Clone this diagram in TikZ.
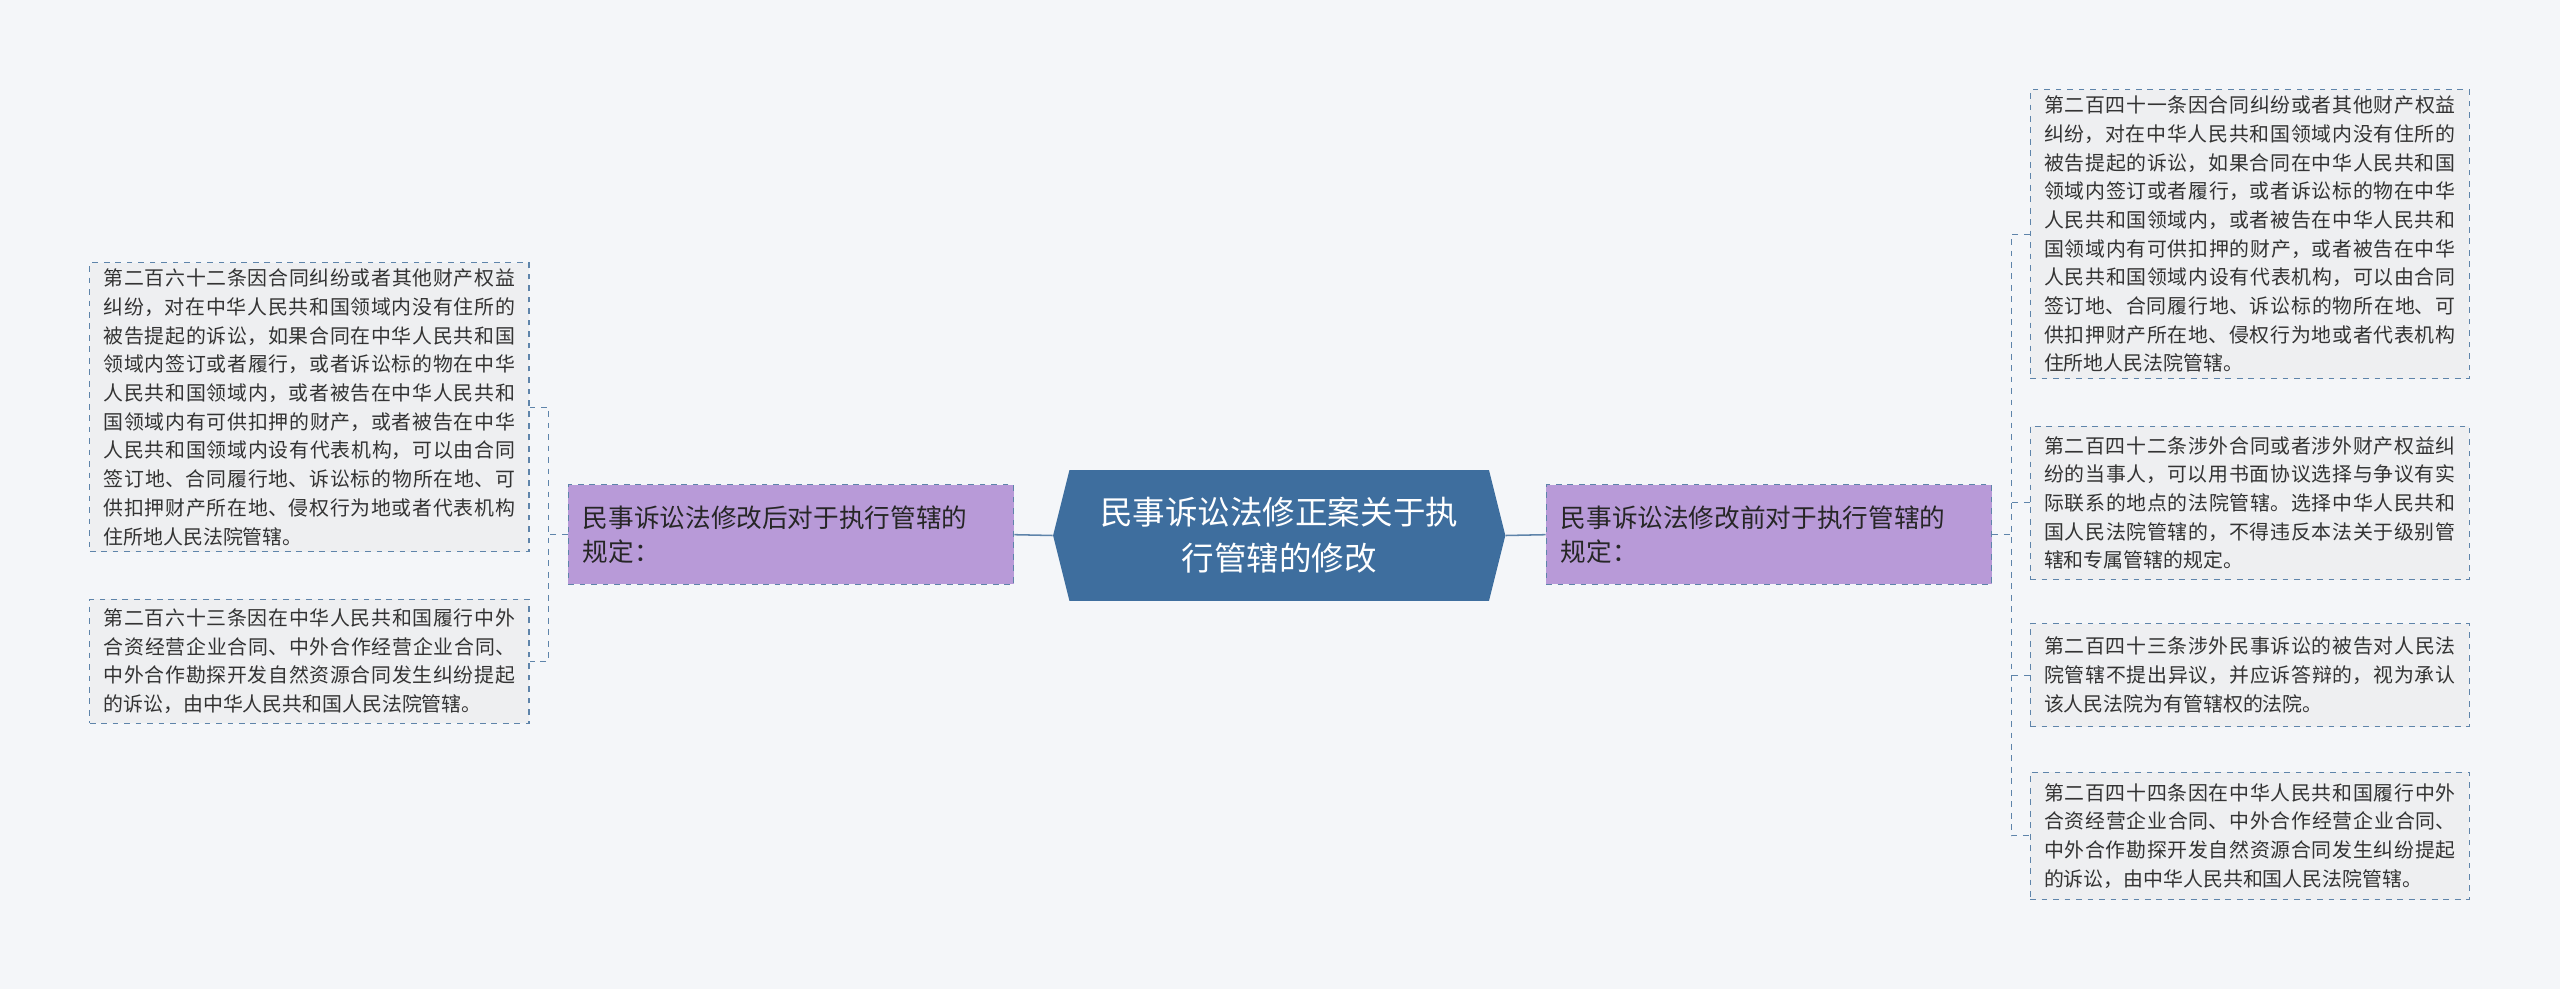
\documentclass[tikz,border=0pt]{standalone}
\usepackage{fontspec}
\setmainfont{Noto Sans CJK SC}
\XeTeXlinebreaklocale "zh"
\XeTeXlinebreakskip=0pt plus 1pt
\definecolor{bg}{HTML}{F4F6F9}
\definecolor{hub}{HTML}{3E6E9E}
\definecolor{br}{HTML}{B89AD8}
\definecolor{lf}{HTML}{EEEFF1}
\definecolor{ln}{HTML}{5E84AA}
\begin{document}
\begin{tikzpicture}[x=0.3mm,y=-0.3mm,
  leaf/.style={draw=ln,dashed,fill=lf,line width=0.6pt,minimum width=269*0.3mm,text width=252*0.3mm,align=justify,inner sep=0pt,font=\fontsize{10.4pt}{15pt}\selectfont,text=black!80},
  branch/.style={draw=ln,dashed,fill=br,line width=0.6pt,minimum width=273*0.3mm,minimum height=61*0.3mm,text width=255*0.3mm,align=left,inner sep=0pt,font=\fontsize{13.4pt}{18pt}\selectfont,text=black!85},
  conn/.style={draw=ln,line width=0.8pt},
  dconn/.style={draw=ln,dashed,line width=0.6pt}]
\useasboundingbox[fill=bg] (0,0) rectangle (1568,606);
% hub
\node[inner sep=0pt,minimum width=277*0.3mm,minimum height=80*0.3mm] (c) at (783.5,328) {};
\fill[hub] (655,288) -- (912,288) -- (922,328) -- (912,368) -- (655,368) -- (645,328) -- cycle;
\node[text=white,align=center,font=\fontsize{17pt}{24pt}\selectfont] at (c) {民事诉讼法修正案关于执\\行管辖的修改};
% branches
\node[branch] (lb) at (484.5,327.5) {民事诉讼法修改后对于执行管辖的\\规定：};
\node[branch] (rb) at (1083.5,327.5) {民事诉讼法修改前对于执行管辖的\\规定：};
\draw[conn] (lb.east) -- (c.west);
\draw[conn] (c.east) -- (rb.west);
% left leaves
\node[leaf,minimum height=177*0.3mm] (l1) at (189.5,249.5) {第二百六十二条因合同纠纷或者其他财产权益纠纷，对在中华人民共和国领域内没有住所的被告提起的诉讼，如果合同在中华人民共和国领域内签订或者履行，或者诉讼标的物在中华人民共和国领域内，或者被告在中华人民共和国领域内有可供扣押的财产，或者被告在中华人民共和国领域内设有代表机构，可以由合同签订地、合同履行地、诉讼标的物所在地、可供扣押财产所在地、侵权行为地或者代表机构住所地人民法院管辖。};
\node[leaf,minimum height=76*0.3mm] (l2) at (189.5,405) {第二百六十三条因在中华人民共和国履行中外合资经营企业合同、中外合作经营企业合同、中外合作勘探开发自然资源合同发生纠纷提起的诉讼，由中华人民共和国人民法院管辖。};
\coordinate (lj) at (336,327.5);
\draw[dconn] (lb.west) -- (lj);
\draw[dconn] (l1.east) -- (336,249.5) -- (336,405) -- (l2.east);
% right leaves
\node[leaf,minimum height=177*0.3mm] (r1) at (1378,143.5) {第二百四十一条因合同纠纷或者其他财产权益纠纷，对在中华人民共和国领域内没有住所的被告提起的诉讼，如果合同在中华人民共和国领域内签订或者履行，或者诉讼标的物在中华人民共和国领域内，或者被告在中华人民共和国领域内有可供扣押的财产，或者被告在中华人民共和国领域内设有代表机构，可以由合同签订地、合同履行地、诉讼标的物所在地、可供扣押财产所在地、侵权行为地或者代表机构住所地人民法院管辖。};
\node[leaf,minimum height=94*0.3mm] (r2) at (1378,308) {第二百四十二条涉外合同或者涉外财产权益纠纷的当事人，可以用书面协议选择与争议有实际联系的地点的法院管辖。选择中华人民共和国人民法院管辖的，不得违反本法关于级别管辖和专属管辖的规定。};
\node[leaf,minimum height=63*0.3mm] (r3) at (1378,413.5) {第二百四十三条涉外民事诉讼的被告对人民法院管辖不提出异议，并应诉答辩的，视为承认该人民法院为有管辖权的法院。};
\node[leaf,minimum height=78*0.3mm] (r4) at (1378,512) {第二百四十四条因在中华人民共和国履行中外合资经营企业合同、中外合作经营企业合同、中外合作勘探开发自然资源合同发生纠纷提起的诉讼，由中华人民共和国人民法院管辖。};
\coordinate (rj) at (1232,327.5);
\draw[dconn] (rb.east) -- (rj);
\draw[dconn] (r1.west) -- (1232,143.5) -- (1232,512) -- (r4.west);
\draw[dconn] (r2.west) -- (1232,308);
\draw[dconn] (r3.west) -- (1232,413.5);
\end{tikzpicture}
\end{document}
